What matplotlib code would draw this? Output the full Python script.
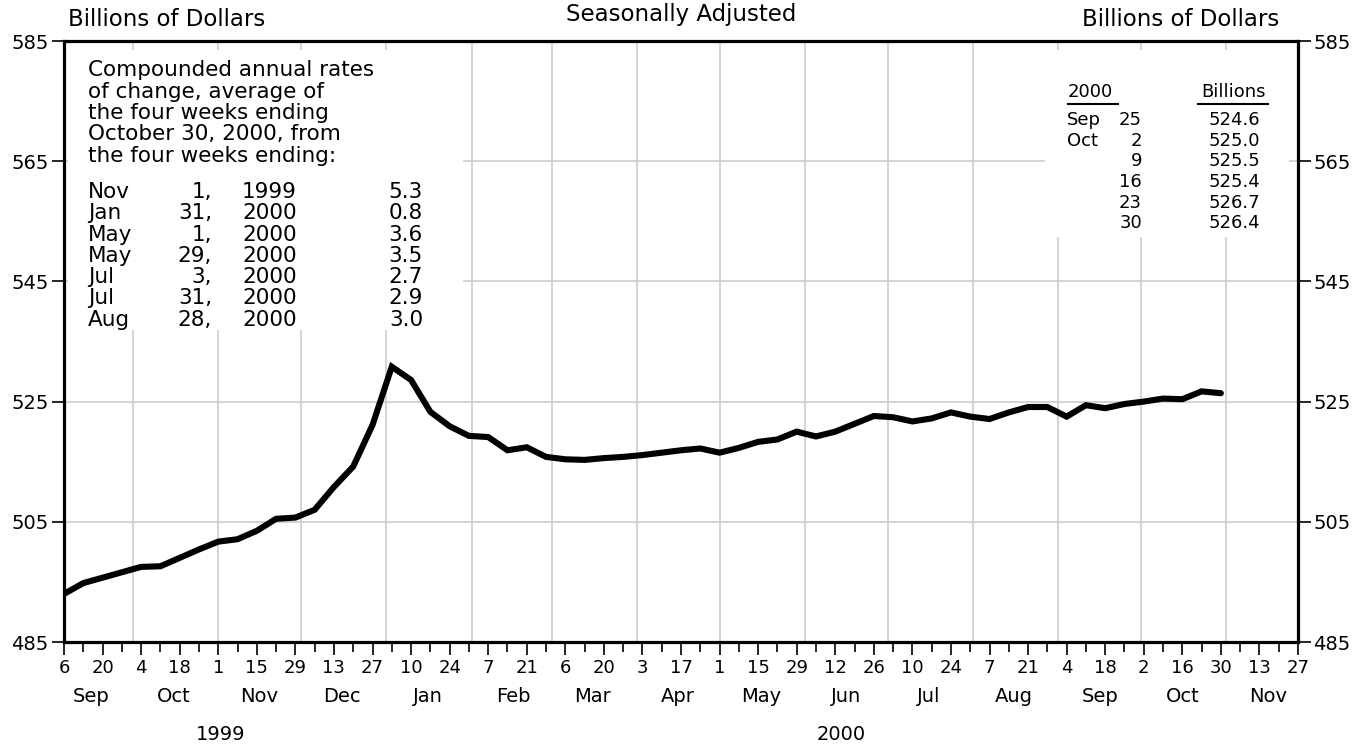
import datetime as dt
import matplotlib
matplotlib.use("Agg")
import matplotlib.pyplot as plt
import matplotlib.dates as mdates
import matplotlib.transforms as mtransforms
from matplotlib.patches import Rectangle
from matplotlib.ticker import FuncFormatter

plt.rcParams['font.family'] = ['DejaVu Sans']

# weekly values, billions of dollars, weeks ending Sep 6 1999 .. Oct 30 2000
start = dt.date(1999, 9, 6)
values = [493.0, 494.8, 495.7, 496.6, 497.5, 497.6, 499.0, 500.4, 501.7, 502.1,
          503.5, 505.5, 505.7, 507.0, 510.8, 514.2, 521.1, 530.8, 528.6, 523.3,
          520.9, 519.3, 519.1, 516.9, 517.4, 515.8, 515.4, 515.3, 515.6, 515.8,
          516.1, 516.5, 516.9, 517.2, 516.5, 517.3, 518.3, 518.7, 520.0, 519.2,
          520.0, 521.3, 522.6, 522.4, 521.7, 522.2, 523.2, 522.5, 522.1, 523.2,
          524.1, 524.1, 522.5, 524.4, 523.9, 524.6, 525.0, 525.5, 525.4, 526.7,
          526.4]
dates = [start + dt.timedelta(weeks=i) for i in range(len(values))]

x_end = dt.date(2000, 11, 27)
yticks = [485, 505, 525, 545, 565, 585]

note_lines = ["Compounded annual rates", "of change, average of",
              "the four weeks ending", "October 30, 2000, from",
              "the four weeks ending:"]
rate_rows = [("Nov", "1,", "1999", "5.3"),
             ("Jan", "31,", "2000", "0.8"),
             ("May", "1,", "2000", "3.6"),
             ("May", "29,", "2000", "3.5"),
             ("Jul", "3,", "2000", "2.7"),
             ("Jul", "31,", "2000", "2.9"),
             ("Aug", "28,", "2000", "3.0")]
recent_rows = [("Sep", "25", "524.6"), ("Oct", "2", "525.0"), ("", "9", "525.5"),
               ("", "16", "525.4"), ("", "23", "526.7"), ("", "30", "526.4")]

months = [dt.date(1999, 9, 1)]
while months[-1] < dt.date(2000, 11, 1):
    m = months[-1]
    months.append(dt.date(m.year + m.month // 12, m.month % 12 + 1, 1))

W, H = 1359, 745
fig = plt.figure(figsize=(W / 100, H / 100), dpi=100)
ax = fig.add_axes([64 / W, 1 - 642 / H, (1298 - 64) / W, (642 - 41) / H])


def px(x, y):
    return x / W, 1 - y / H


grid_c = '#cccccc'
for m in months[1:]:
    ax.axvline(m, color=grid_c, lw=1.2, zorder=0)
for yv in yticks[1:-1]:
    ax.axhline(yv, color=grid_c, lw=1.2, zorder=0)

# white panels behind the notes
ax.add_patch(Rectangle((0.003, 0.519), 0.32, 0.466, transform=ax.transAxes,
                       facecolor='white', edgecolor='none', zorder=1))
ax.add_patch(Rectangle((0.795, 0.674), 0.198, 0.311, transform=ax.transAxes,
                       facecolor='white', edgecolor='none', zorder=1))

ax.plot(dates, values, color='black', lw=4.4, solid_joinstyle='miter',
        solid_capstyle='round', zorder=3)

ax.set_xlim(start, x_end)
ax.set_ylim(485, 585)

for s in ax.spines.values():
    s.set_linewidth(2.3)

ax.set_yticks(yticks)
ax.tick_params(axis='y', which='both', left=True, right=True, labelleft=True,
               labelright=True, direction='out', length=9, width=1.2,
               labelsize=14, pad=2)

weeks = [start + dt.timedelta(weeks=i) for i in range(65)]
ax.set_xticks(weeks[::2])
ax.set_xticks(weeks[1::2], minor=True)
ax.xaxis.set_major_formatter(FuncFormatter(lambda v, p: str(mdates.num2date(v).day)))
ax.tick_params(axis='x', which='major', direction='out', length=9, width=1.2,
               labelsize=13, pad=3)
ax.tick_params(axis='x', which='minor', direction='out', length=7, width=1.2)

# month and year labels under the axis
trans = mtransforms.blended_transform_factory(ax.transData, fig.transFigure)
for m in months:
    ax.text(m + dt.timedelta(days=15), 1 - 697 / H, m.strftime('%b'), transform=trans,
            ha='center', va='center', fontsize=14)
ax.text(dt.date(1999, 11, 2), 1 - 735 / H, '1999', transform=trans,
        ha='center', va='center', fontsize=14)
ax.text(dt.date(2000, 6, 14), 1 - 735 / H, '2000', transform=trans,
        ha='center', va='center', fontsize=14)

# header texts
fig.text(*px(68, 20), 'Billions of Dollars', ha='left', va='center', fontsize=16.5)
fig.text(*px(1279, 20), 'Billions of Dollars', ha='right', va='center', fontsize=16.5)
fig.text(*px(681, 14), 'Seasonally Adjusted', ha='center', va='center', fontsize=16.5)

# left note
for i, line in enumerate(note_lines):
    fig.text(*px(88, 70 + i * 21.5), line, ha='left', va='center', fontsize=15.5)
for i, (mon, day, yr, rate) in enumerate(rate_rows):
    yy = 192 + i * 21.3
    fig.text(*px(88, yy), mon, ha='left', va='center', fontsize=15.5)
    fig.text(*px(212, yy), day, ha='right', va='center', fontsize=15.5)
    fig.text(*px(242, yy), yr, ha='left', va='center', fontsize=15.5)
    fig.text(*px(423, yy), rate, ha='right', va='center', fontsize=15.5)

# right table of recent weeks
fig.text(*px(1068, 92), '2000', ha='left', va='center', fontsize=13)
fig.text(*px(1266, 92), 'Billions', ha='right', va='center', fontsize=13)
fig.add_artist(plt.Line2D([1068 / W, 1118 / W], [1 - 104 / H] * 2, color='black', lw=1.5))
fig.add_artist(plt.Line2D([1198 / W, 1268 / W], [1 - 104 / H] * 2, color='black', lw=1.5))
for i, (mon, day, val) in enumerate(recent_rows):
    yy = 120 + i * 20.7
    fig.text(*px(1067, yy), mon, ha='left', va='center', fontsize=13)
    fig.text(*px(1142, yy), day, ha='right', va='center', fontsize=13)
    fig.text(*px(1260, yy), val, ha='right', va='center', fontsize=13)

fig.savefig('out.png', dpi=100, facecolor='white')
